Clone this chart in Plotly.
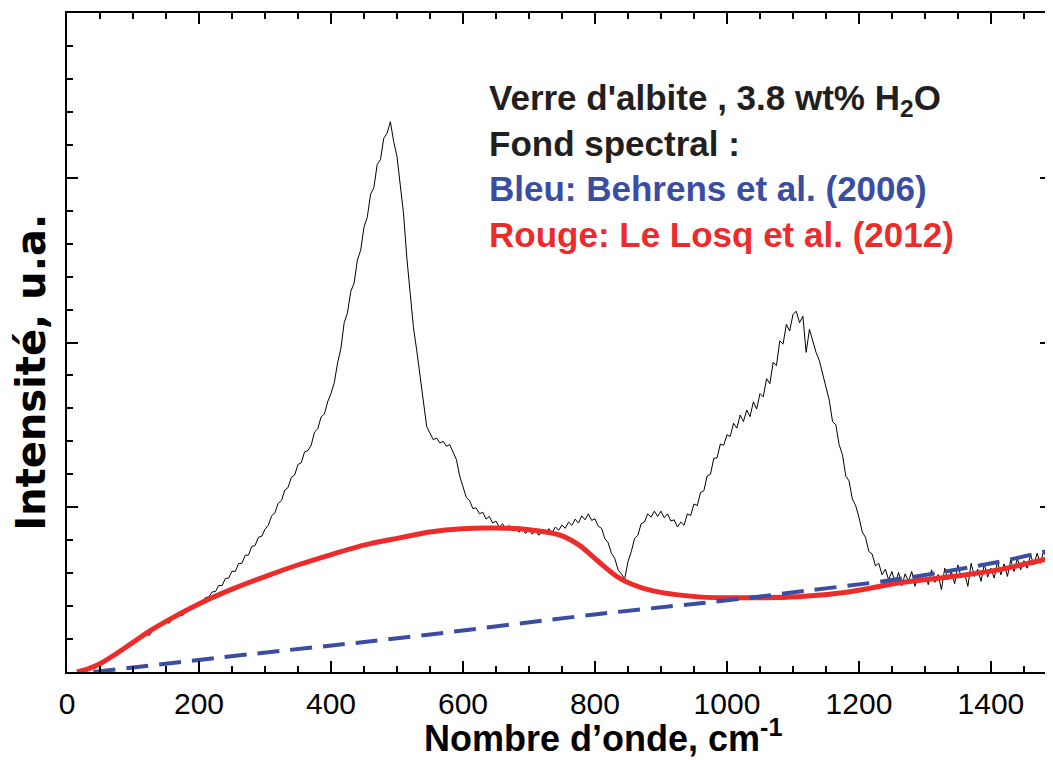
import plotly.graph_objects as go

# ---------------- data ----------------
# measured Raman spectrum (black), sampled every 5 cm-1 from 20 to 1490
spec_x = list(range(20, 1491, 5))
spec_y = [
    0.02, 0.04, 0.10, 0.12, 0.18, 0.20, 0.26, 0.30, 0.38, 0.42, 0.51, 0.55, 0.64, 0.68, 0.77, 0.80,
    0.90, 0.92, 1.02, 1.05, 1.15, 1.11, 1.27, 1.29, 1.40, 1.42, 1.53, 1.48, 1.64, 1.66, 1.76, 1.71, 1.88, 1.89, 1.99, 2.00,
    2.10, 2.13, 2.26, 2.28, 2.43, 2.44, 2.63, 2.62, 2.84, 2.85, 3.06, 3.05, 3.29, 3.30, 3.54, 3.55, 3.81, 3.84, 4.09, 4.12,
    4.33, 4.45, 4.74, 4.83, 5.12, 5.20, 5.52, 5.60, 5.91, 5.98, 6.30, 6.35, 6.68, 6.72, 6.88, 7.28, 7.38, 7.74, 7.83, 8.20,
    8.45, 8.78, 9.38, 9.82, 10.60, 10.90, 11.55, 11.80, 12.50, 12.80, 13.50, 13.80, 14.50, 14.70, 15.40, 15.55, 16.20, 16.35, 16.70, 16.10,
    15.65, 14.80, 13.90, 12.55, 11.40, 10.45, 9.75, 8.95, 8.25, 7.45, 7.25, 7.05, 7.10, 6.95, 7.00, 6.85, 6.90, 6.65, 6.45, 5.95,
    5.62, 5.30, 5.20, 4.96, 4.98, 4.80, 4.85, 4.64, 4.72, 4.52, 4.58, 4.40, 4.50, 4.33, 4.45, 4.28, 4.40, 4.24, 4.35, 4.20,
    4.32, 4.18, 4.30, 4.15, 4.28, 4.20, 4.35, 4.22, 4.40, 4.30, 4.46, 4.36, 4.55, 4.45, 4.64, 4.52, 4.74, 4.62, 4.80, 4.60,
    4.65, 4.42, 4.36, 4.05, 3.92, 3.60, 3.45, 3.10, 2.98, 2.82, 3.35, 3.65, 4.05, 4.15, 4.50, 4.55, 4.80, 4.70, 4.88, 4.72,
    4.88, 4.68, 4.80, 4.58, 4.62, 4.40, 4.55, 4.45, 4.80, 4.75, 5.10, 5.05, 5.45, 5.50, 5.95, 6.00, 6.48, 6.50, 6.92, 6.88,
    7.20, 7.15, 7.55, 7.40, 7.80, 7.60, 7.95, 7.75, 8.20, 7.98, 8.45, 8.35, 8.90, 8.75, 9.40, 9.30, 10.05, 9.95, 10.55, 10.35,
    10.85, 10.95, 10.60, 10.80, 9.70, 10.40, 10.05, 9.70, 9.45, 9.05, 8.60, 8.25, 7.60, 7.50, 6.90, 6.60, 5.95, 5.80, 5.25, 5.05,
    4.70, 4.25, 4.08, 3.66, 3.58, 3.22, 3.30, 2.95, 3.12, 2.80, 3.05, 2.70, 3.02, 2.62, 2.98, 2.75, 3.05, 2.60, 2.95, 2.80,
    3.00, 2.65, 3.10, 2.72, 2.96, 2.50, 3.15, 2.80, 3.05, 2.68, 3.25, 2.85, 3.00, 2.60, 3.30, 2.90, 3.12, 2.75, 3.28, 2.88,
    3.15, 2.85, 3.35, 2.95, 3.28, 2.90, 3.40, 3.05, 3.45, 3.10, 3.38, 3.15, 3.55, 3.25, 3.60, 3.30, 3.68, 3.40, 3.62,
]

# background, Le Losq et al. (2012) (red)
red_x = [15, 30, 50, 75, 100, 125, 152, 202, 252, 303, 353, 398, 450, 504, 550, 599, 650, 700, 746, 776, 806, 837, 882,
         957, 1033, 1108, 1184, 1260, 1335, 1411, 1491]
red_y = [0.0, 0.08, 0.25, 0.56, 0.90, 1.24, 1.56, 2.09, 2.53, 2.92, 3.27, 3.55, 3.85, 4.07, 4.25, 4.35, 4.37, 4.32, 4.16,
         3.85, 3.34, 2.85, 2.49, 2.28, 2.25, 2.28, 2.43, 2.70, 2.88, 3.10, 3.46]

# background, Behrens et al. (2006) (blue, dashed)
blue_x = [40, 282, 504, 806, 1007, 1118, 1260, 1411, 1491]
blue_y = [0.0, 0.55, 1.03, 1.76, 2.19, 2.46, 2.82, 3.34, 3.70]

x_title = "Nombre d’onde, cm<sup>-1</sup>"
y_title = "Intensité, u.a."
legend_lines = [
    ("Verre d'albite , 3.8 wt% H<sub>2</sub>O", "#231F20"),
    ("Fond spectral :", "#231F20"),
    ("Bleu: Behrens et al. (2006)", "#3A4DA3"),
    ("Rouge: Le Losq et al. (2012)", "#EE2B2B"),
]

# ---------------- figure ----------------
fig = go.Figure()
fig.add_trace(go.Scatter(x=spec_x, y=spec_y, mode="lines",
                         line=dict(color="black", width=1), showlegend=False))
fig.add_trace(go.Scatter(x=red_x, y=red_y, mode="lines",
                         line=dict(color="#EE2B2B", width=5, shape="spline", smoothing=0.8),
                         showlegend=False))
fig.add_trace(go.Scatter(x=blue_x, y=blue_y, mode="lines",
                         line=dict(color="#3A4DA3", width=4, dash="22px,11px", shape="spline"),
                         showlegend=False))

axis_common = dict(showline=True, linecolor="black", linewidth=2, mirror="ticks",
                   ticks="inside", tickcolor="black", tickwidth=1.5, ticklen=11,
                   showgrid=False, zeroline=False)

fig.update_xaxes(range=[0, 1491], tick0=0, dtick=200, ticklabelstandoff=4,
                 minor=dict(ticks="inside", ticklen=6, dtick=50, tick0=0,
                            tickcolor="black", tickwidth=1.5, showgrid=False),
                 tickfont=dict(family="Liberation Sans, Arial", size=30, color="black"),
                 **axis_common)
fig.update_yaxes(range=[0, 20], tick0=0, dtick=5, showticklabels=False,
                 minor=dict(ticks="inside", ticklen=6, dtick=1, tick0=0,
                            tickcolor="black", tickwidth=1.5, showgrid=False),
                 **axis_common)

text = "<br>".join(f'<span style="color:{c}"><b>{t}</b></span>' for t, c in legend_lines)
fig.add_annotation(xref="paper", yref="paper", x=0.427, y=0.905, xanchor="left", yanchor="top",
                   text=text, showarrow=False, align="left",
                   font=dict(family="Liberation Sans, Arial", size=35, color="#231F20"))

fig.add_annotation(xref="paper", yref="paper", x=0.545, y=-0.097, xanchor="center", yanchor="middle",
                   text=f"<b>{x_title}</b>", showarrow=False,
                   font=dict(family="Liberation Sans, Arial", size=36, color="black"))
fig.add_annotation(xref="paper", yref="paper", x=-0.036, y=0.455, xanchor="center", yanchor="middle",
                   text=f"<b>{y_title}</b>", showarrow=False, textangle=-90,
                   font=dict(family="DejaVu Sans", size=40, color="black"))

# the page adds an 8 px body margin, so the figure is 8 px smaller than the window
fig.update_layout(width=1045, height=752, margin=dict(l=59, r=0, t=5, b=88),
                  plot_bgcolor="white", paper_bgcolor="white", showlegend=False)

fig.write_html("out.html")
